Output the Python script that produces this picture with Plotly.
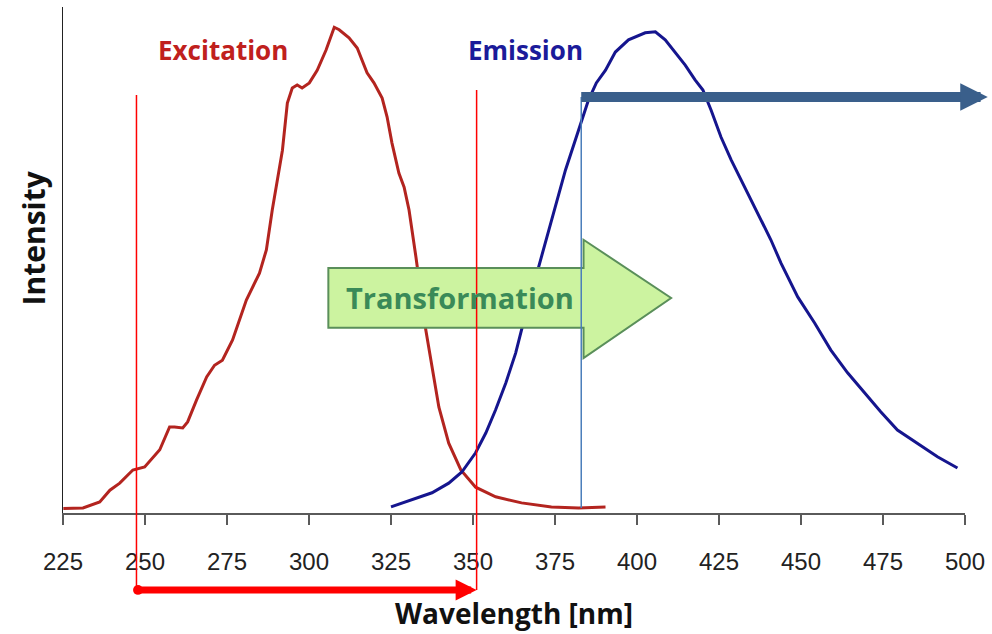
import plotly.graph_objects as go

# ---- data ----
exc_wl = [225.1, 231.1, 236.2, 239.3, 242.3, 246.3, 249.9, 254.5, 257.5, 259.0, 261.5, 263.0,
          265.7, 268.8, 271.2, 273.6, 276.7, 279.4, 280.9, 284.9, 287.0, 288.8, 291.9, 293.4,
          294.9, 296.4, 297.9, 300.1, 302.5, 305.2, 307.7, 309.2, 312.2, 314.7, 316.2, 317.7,
          319.8, 322.3, 323.8, 325.3, 327.4, 329.0, 330.5, 332.6, 335.6, 337.5, 339.6, 342.6,
          346.3, 350.8, 356.9, 364.8, 373.9, 382.2, 390.4]
exc_int = [0.9, 1.0, 2.2, 4.5, 5.9, 8.5, 9.1, 12.5, 17.0, 17.0, 16.8, 18.0,
           22.3, 26.9, 29.2, 30.2, 34.2, 39.5, 42.1, 47.4, 52.0, 59.9, 71.7, 81.0,
           84.0, 84.6, 84.0, 85.0, 87.5, 91.5, 96.0, 95.5, 93.9, 91.9, 89.5, 87.0,
           85.0, 82.0, 78.3, 73.1, 67.2, 64.4, 59.9, 50.6, 36.2, 28.9, 20.9, 13.8,
           8.5, 5.1, 3.2, 2.0, 1.2, 1.0, 1.2]

emi_wl = [325.0, 331.4, 337.5, 342.6, 346.6, 350.8, 353.9, 356.9, 360.0, 363.0, 364.8, 370.0,
          373.9, 378.2, 382.2, 385.2, 387.6, 390.4, 393.4, 397.4, 402.5, 405.6, 408.6, 411.6,
          414.7, 417.7, 420.1, 422.6, 425.6, 428.7, 432.9, 436.9, 440.8, 443.9, 449.0, 454.2,
          459.1, 464.2, 469.4, 474.3, 479.4, 485.5, 491.6, 497.7]
emi_int = [1.2, 2.6, 4.0, 5.9, 8.1, 11.9, 15.8, 20.4, 25.7, 31.6, 36.2, 48.6,
           57.9, 67.8, 75.7, 81.6, 85.0, 87.5, 91.1, 93.5, 94.9, 95.1, 93.5, 91.1,
           88.5, 85.6, 83.6, 79.6, 74.3, 69.8, 64.4, 59.3, 54.0, 49.4, 42.7, 37.5,
           32.2, 27.7, 23.7, 20.0, 16.4, 13.8, 11.1, 8.9]

tick_vals = [225, 250, 275, 300, 325, 350, 375, 400, 425, 450, 475, 500]
tick_text = [str(v) for v in tick_vals]

excitation_window = [247.4, 351.1]   # red markers
emission_cut = 383.0                 # blue marker

# ---- figure ----
fig = go.Figure()
fig.add_trace(go.Scatter(x=exc_wl, y=exc_int, mode="lines",
                         line=dict(color="#b3241f", width=3), hoverinfo="skip"))
fig.add_trace(go.Scatter(x=emi_wl, y=emi_int, mode="lines",
                         line=dict(color="#15158e", width=3), hoverinfo="skip"))

shapes = []
# Transformation arrow (in data coords)
shapes.append(dict(type="path", xref="x", yref="y", layer="above",
                   path="M 305.9,36.6 L 383.7,36.6 L 383.7,30.6 L 410.4,42.5 L 383.7,54.0 L 383.7,48.4 L 305.9,48.4 Z",
                   fillcolor="#ccf3a0", line=dict(color="#5a8f5a", width=2)))
# red vertical lines
shapes.append(dict(type="line", xref="x", yref="paper", x0=excitation_window[0], x1=excitation_window[0],
                   y0=-0.152, y1=0.826, line=dict(color="#ff0000", width=1.5), layer="above"))
shapes.append(dict(type="line", xref="x", yref="paper", x0=excitation_window[1], x1=excitation_window[1],
                   y0=-0.152, y1=0.836, line=dict(color="#ff0000", width=1.5), layer="above"))
# blue vertical line
shapes.append(dict(type="line", xref="x", yref="paper", x0=emission_cut, x1=emission_cut,
                   y0=0.01, y1=0.822, line=dict(color="#4a7ebb", width=1.5), layer="above"))

annotations = []
# red double arrow
annotations.append(dict(x=excitation_window[1], y=-0.152, xref="x", yref="paper",
                        ax=excitation_window[0], axref="x", ay=0, ayref="pixel",
                        text="", showarrow=True, arrowside="end+start",
                        arrowhead=2, startarrowhead=6, arrowsize=0.6, startarrowsize=0.35,
                        arrowwidth=7, arrowcolor="#ff0000"))
# blue top arrow
annotations.append(dict(x=emission_cut, y=0.822, xref="x", yref="paper",
                        ax=408, axref="pixel", ay=0, ayref="pixel",
                        text="", showarrow=True, arrowside="start",
                        startarrowhead=2, startarrowsize=0.55,
                        arrowwidth=10, arrowcolor="#3a5f8b"))
annotations.append(dict(x=273.9, y=91.5, xref="x", yref="y", text="<b>Excitation</b>",
                        showarrow=False, font=dict(family="Open Sans", size=26, color="#c0201d")))
annotations.append(dict(x=366.0, y=91.5, xref="x", yref="y", text="<b>Emission</b>",
                        showarrow=False, font=dict(family="Open Sans", size=26, color="#1b1b9a")))
annotations.append(dict(x=346.0, y=42.5, xref="x", yref="y", text="<b>Transformation</b>",
                        showarrow=False, font=dict(family="Open Sans", size=29, color="#3a8a58")))
annotations.append(dict(x=0.5, y=-0.198, xref="paper", yref="paper", text="<b>Wavelength [nm]</b>",
                        showarrow=False, yanchor="middle",
                        font=dict(family="Open Sans", size=28, color="#111111")))
annotations.append(dict(x=-0.033, y=0.543, xref="paper", yref="paper", text="<b>Intensity</b>",
                        showarrow=False, textangle=-90, xanchor="center", yanchor="middle",
                        font=dict(family="Open Sans", size=30, color="#111111")))

fig.update_layout(
    width=992, height=634,
    margin=dict(l=63, r=24, t=7, b=121),
    paper_bgcolor="white", plot_bgcolor="white",
    showlegend=False,
    shapes=shapes, annotations=annotations,
    xaxis=dict(range=[225, 500], tickvals=tick_vals, ticktext=tick_text,
               showgrid=False, zeroline=False, showline=True, linecolor="#5a5a5a", linewidth=2,
               ticks="outside", ticklen=10, tickwidth=2, tickcolor="#5a5a5a",
               ticklabelstandoff=16,
               tickfont=dict(family="Liberation Sans", size=24, color="#222222")),
    yaxis=dict(range=[0, 100], showgrid=False, zeroline=False, showticklabels=False,
               showline=True, linecolor="#222222", linewidth=1, ticks=""),
)

fig.write_html("out.html", config={"displayModeBar": False},
               post_script="document.body.style.margin='0px';document.body.style.overflow='hidden';")
